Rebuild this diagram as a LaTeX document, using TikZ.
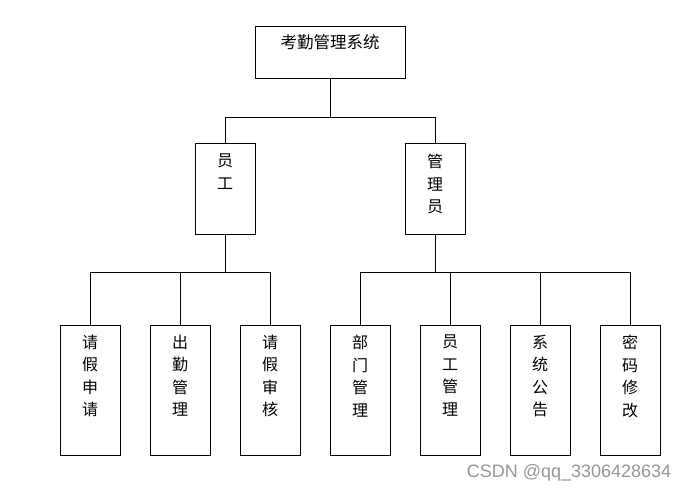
\documentclass[tikz,border=0pt]{standalone}
\usepackage{fontspec}
\setmainfont{Liberation Serif}
\newfontfamily\cjk{Noto Sans CJK SC}
\newfontfamily\wmfont{Liberation Sans}
\definecolor{wmgray}{RGB}{150,150,150}
% vertical text, set from the top of the box
\newcommand{\vtext}[2]{\parbox[c][#1][t]{40pt}{\centering\cjk\fontsize{16}{22.5}\selectfont #2}}

\begin{document}
\begin{tikzpicture}[x=1pt, y=-1pt, line width=0.8pt,
        box/.style={draw, rectangle, inner sep=0pt, minimum width=60pt},
        leaf/.style={box, minimum height=130pt}]
        \useasboundingbox (0,0) rectangle (690,494);

        % system
        \node[box, minimum width=150pt, minimum height=52pt] (sys) at (330,52)
            {\parbox[c][34pt][t]{150pt}{\centering\cjk\fontsize{16.5}{20}\selectfont 考勤管理系统}};

        % roles
        \node[box, minimum height=91pt] (emp) at (225,188.5) {\vtext{69pt}{员\\工}};
        \node[box, minimum height=91pt] (adm) at (435,188.5) {\vtext{69pt}{管\\理\\员}};

        % employee functions
        \node[leaf] (qjsq) at (90,390) {\vtext{110pt}{请\\假\\申\\请}};
        \node[leaf] (cqgl) at (180,390) {\vtext{110pt}{出\\勤\\管\\理}};
        \node[leaf] (qjsh) at (270,390) {\vtext{110pt}{请\\假\\审\\核}};

        % admin functions
        \node[leaf] (bmgl) at (360,390) {\vtext{110pt}{部\\门\\管\\理}};
        \node[leaf] (yggl) at (450,390) {\vtext{110pt}{员\\工\\管\\理}};
        \node[leaf] (xtgg) at (540,390) {\vtext{110pt}{系\\统\\公\\告}};
        \node[leaf] (mmxg) at (630,390) {\vtext{110pt}{密\\码\\修\\改}};

        % system -- roles
        \draw (sys.south) -- ++(0,39) coordinate (j0);
        \draw (emp.north) |- (j0) -| (adm.north);

        % employee -- functions
        \draw (emp.south) -- ++(0,38) coordinate (j1);
        \draw (qjsq.north) |- (j1) -| (qjsh.north);
        \draw (cqgl.north) -- (cqgl.north |- j1);

        % admin -- functions
        \draw (adm.south) -- ++(0,38) coordinate (j2);
        \draw (bmgl.north) |- (j2) -| (mmxg.north);
        \draw (yggl.north) -- (yggl.north |- j2);
        \draw (xtgg.north) -- (xtgg.north |- j2);

        % watermark
        \node[anchor=east, text=wmgray, font=\wmfont\fontsize{18}{20}\selectfont] (wm) at (675,473) {CSDN @qq\_3306428634};
\end{tikzpicture}
\end{document}
